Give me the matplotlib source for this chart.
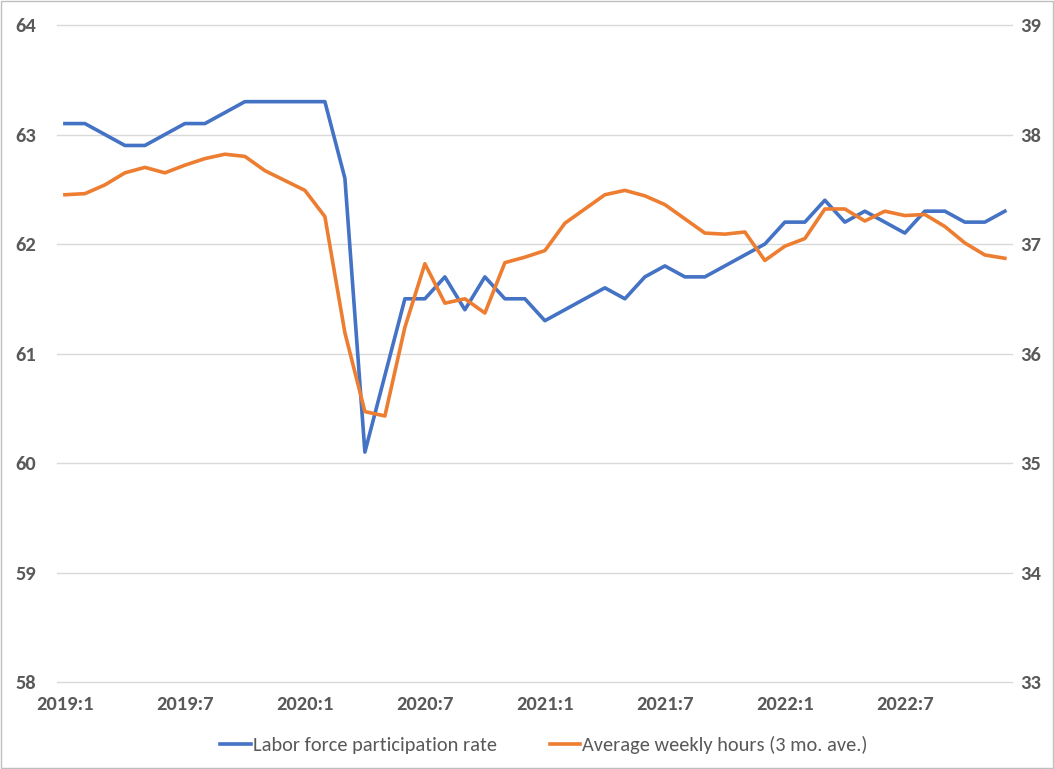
import matplotlib
matplotlib.use("Agg")
import matplotlib.pyplot as plt
from matplotlib.patches import Rectangle

plt.rcParams['font.family'] = ['Carlito', 'Lato', 'DejaVu Sans']

# monthly, 2019:1 .. 2022:12
months = [f"{y}:{m}" for y in range(2019, 2023) for m in range(1, 13)]

lfpr = [63.1, 63.1, 63.0, 62.9, 62.9, 63.0, 63.1, 63.1, 63.2, 63.3, 63.3, 63.3,
        63.3, 63.3, 62.6, 60.1, 60.8, 61.5, 61.5, 61.7, 61.4, 61.7, 61.5, 61.5,
        61.3, 61.4, 61.5, 61.6, 61.5, 61.7, 61.8, 61.7, 61.7, 61.8, 61.9, 62.0,
        62.2, 62.2, 62.4, 62.2, 62.3, 62.2, 62.1, 62.3, 62.3, 62.2, 62.2, 62.3]

hours = [37.45, 37.46, 37.54, 37.65, 37.70, 37.65, 37.72, 37.78, 37.82, 37.80, 37.67, 37.58,
         37.49, 37.25, 36.19, 35.47, 35.43, 36.24, 36.82, 36.46, 36.50, 36.37, 36.83, 36.88,
         36.94, 37.19, 37.32, 37.45, 37.49, 37.44, 37.36, 37.23, 37.10, 37.09, 37.11, 36.85,
         36.98, 37.05, 37.32, 37.32, 37.21, 37.30, 37.26, 37.27, 37.16, 37.01, 36.90, 36.87]

blue = '#4472C4'
orange = '#ED7D31'
txt = '#595959'

fig = plt.figure(figsize=(10.54, 7.69), dpi=100)
ax = fig.add_axes([0.054, 0.113, 0.906, 0.8545])
ax2 = ax.twinx()

x = list(range(len(months)))
l1, = ax.plot(x, lfpr, color=blue, lw=2.6, label='Labor force participation rate')
l2, = ax2.plot(x, hours, color=orange, lw=2.6, label='Average weekly hours (3 mo. ave.)')

ax.set_xlim(-0.4, 47.35)
ax.set_ylim(58, 64)
ax2.set_ylim(33, 39)
ax.set_yticks(range(58, 65))
ax2.set_yticks(range(33, 40))
ax.set_xticks(x[::6])
ax.set_xticklabels(months[::6])

ax.grid(axis='y', color='#d9d9d9', lw=1)
for gl in ax.get_ygridlines():
    gl.set_clip_on(False)
ax.set_axisbelow(True)
for a in (ax, ax2):
    for s in a.spines.values():
        s.set_visible(False)
    a.tick_params(length=0, labelsize=14.8, labelcolor=txt)
    for lab in a.get_xticklabels() + a.get_yticklabels():
        lab.set_fontweight('bold')
ax.tick_params(axis='x', pad=10)
ax.tick_params(axis='y', pad=15)
ax2.tick_params(axis='y', pad=6)

fig.legend([l1, l2], [l1.get_label(), l2.get_label()], loc='center',
           bbox_to_anchor=(0.516, 0.031), ncol=2, frameon=False, fontsize=14.7,
           handlelength=1.5, handletextpad=0.1, columnspacing=2.6,
           labelcolor=txt)

fig.patches.append(Rectangle((0.001, 0.001), 0.998, 0.998, transform=fig.transFigure,
                             fill=False, edgecolor='#bfbfbf', lw=1))

fig.savefig('out.png', dpi=100)
